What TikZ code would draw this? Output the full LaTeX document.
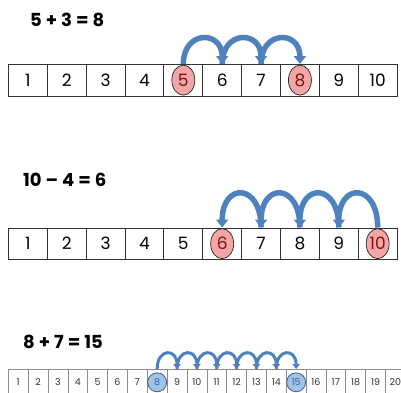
\documentclass[tikz,border=0pt]{standalone}
\usepackage{fontspec}
\setmainfont{Poppins}
\usetikzlibrary{arrows.meta,shapes.geometric}
\definecolor{jump}{RGB}{79,129,189}
\definecolor{redfill}{RGB}{244,166,166}
\definecolor{redtext}{RGB}{120,20,20}
\definecolor{bluefill}{RGB}{157,195,230}
\definecolor{blueedge}{RGB}{70,95,125}
\definecolor{bluetext}{RGB}{60,100,150}
\newcommand{\opsp}{\hspace{4pt}}
\begin{document}
\begin{tikzpicture}[x=1pt,y=-1pt,
  bigcell/.style={draw=black!80, line width=0.8pt, minimum width=38.87pt, minimum height=31.5pt,
    inner sep=0pt, anchor=north west, font=\fontsize{17}{17}\selectfont},
  smallcell/.style={draw=black!45, line width=0.6pt, minimum width=19.85pt, minimum height=26pt,
    inner sep=0pt, anchor=north west, text=black!80, font=\fontsize{9.5}{9.5}\selectfont},
  redoval/.style={ellipse, draw=black!85, line width=0.7pt, fill=redfill, minimum width=23pt,
    minimum height=30pt, inner sep=0pt, text=redtext, font=\fontsize{17}{17}\selectfont},
  bluedot/.style={circle, draw=blueedge, line width=0.8pt, fill=bluefill, minimum size=19pt,
    inner sep=0pt, text=bluetext, font=\fontsize{9.5}{9.5}\selectfont},
  titletext/.style={anchor=west, inner sep=0pt, font=\fontsize{18}{18}\selectfont\bfseries},
  bigjump/.style={draw=jump, line width=5.5pt, -{Triangle[width=12pt,length=8pt]}},
  smalljump/.style={draw=jump, line width=3pt, -{Triangle[width=7.5pt,length=5pt]}}]
\useasboundingbox (0,0) rectangle (401,392);
\clip (0,0) rectangle (401,392);

% ---------- Row 1: 5 + 3 = 8 ----------
\node[titletext] (t1) at (30,20) {5\opsp+\opsp3\opsp=\opsp8};
\foreach \i in {1,...,10} {
  \ifnum\i=5 \node[bigcell] (a\i) at ({8+(\i-1)*38.87},64) {};
  \else\ifnum\i=8 \node[bigcell] (a\i) at ({8+(\i-1)*38.87},64) {};
  \else \node[bigcell] (a\i) at ({8+(\i-1)*38.87},64) {\i};
  \fi\fi
}
\node[redoval] (o5) at (a5.center) {5};
\node[redoval] (o8) at (a8.center) {8};
\draw[bigjump] (a5.north) .. controls +(0,-34) and +(0,-34) .. (a6.north);
\draw[bigjump] (a6.north) .. controls +(0,-34) and +(0,-34) .. (a7.north);
\draw[bigjump] (a7.north) .. controls +(0,-34) and +(0,-34) .. (a8.north);

% ---------- Row 2: 10 - 4 = 6 ----------
\node[titletext] (t2) at (23,180) {10\opsp–\opsp4\opsp=\opsp6};
\foreach \i in {1,...,10} {
  \ifnum\i=6 \node[bigcell] (b\i) at ({8+(\i-1)*38.87},227.5) {};
  \else\ifnum\i=10 \node[bigcell] (b\i) at ({8+(\i-1)*38.87},227.5) {};
  \else \node[bigcell] (b\i) at ({8+(\i-1)*38.87},227.5) {\i};
  \fi\fi
}
\node[redoval] (o6) at (b6.center) {6};
\node[redoval] (o10) at (b10.center) {10};
\draw[bigjump] (b10.north) .. controls +(0,-45) and +(0,-45) .. (b9.north);
\draw[bigjump] (b9.north) .. controls +(0,-45) and +(0,-45) .. (b8.north);
\draw[bigjump] (b8.north) .. controls +(0,-45) and +(0,-45) .. (b7.north);
\draw[bigjump] (b7.north) .. controls +(0,-45) and +(0,-45) .. (b6.north);

% ---------- Row 3: 8 + 7 = 15 ----------
\node[titletext] (t3) at (23,341.5) {8\opsp+\opsp7\opsp=\opsp15};
\foreach \i in {1,...,20} {
  \ifnum\i=8 \node[smallcell] (c\i) at ({8+(\i-1)*19.85},369) {};
  \else\ifnum\i=15 \node[smallcell] (c\i) at ({8+(\i-1)*19.85},369) {};
  \else \node[smallcell] (c\i) at ({8+(\i-1)*19.85},369) {\i};
  \fi\fi
}
\node[bluedot] (d8) at (c8.center) {8};
\node[bluedot] (d15) at (c15.center) {15};
\foreach \i [count=\j from 9] in {8,...,14} {
  \draw[smalljump] (c\i.north) .. controls +(0,-21) and +(0,-21) .. (c\j.north);
}
\end{tikzpicture}
\end{document}
